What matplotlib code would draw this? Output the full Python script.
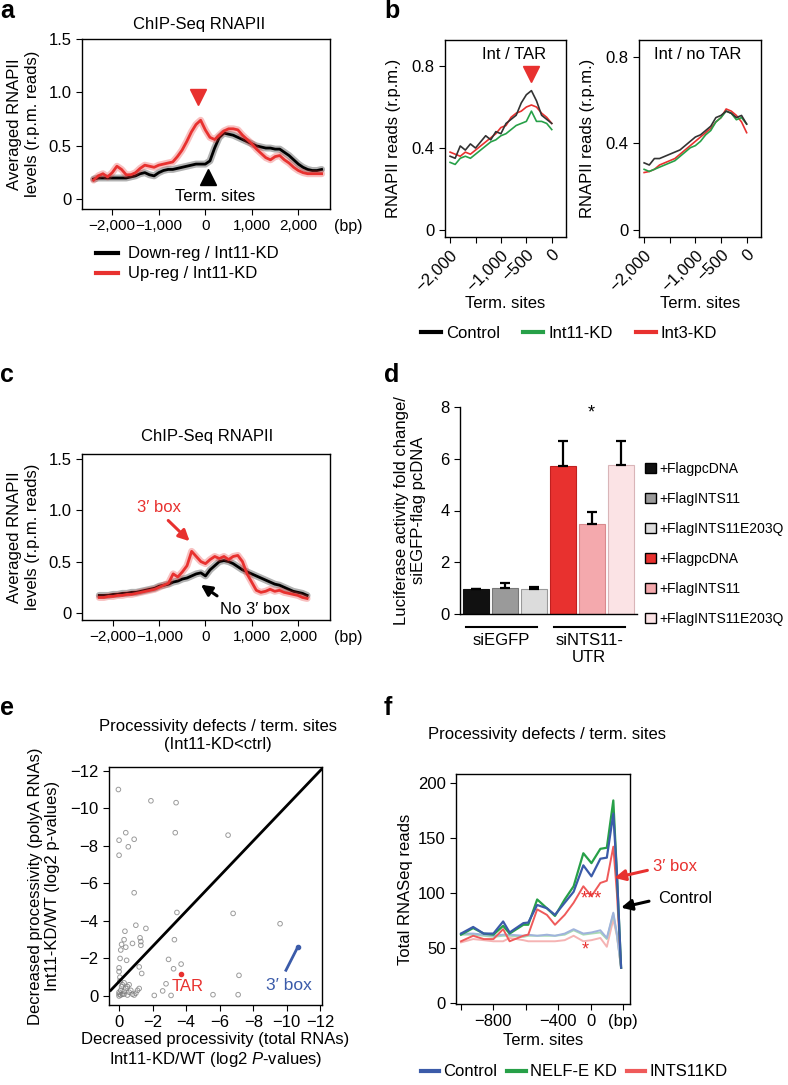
import numpy as np
import matplotlib.pyplot as plt
from matplotlib.lines import Line2D
from matplotlib.patches import Patch

plt.rcParams['font.family'] = ['Liberation Sans', 'DejaVu Sans']
plt.rcParams['font.size'] = 12
plt.rcParams['xtick.labelsize'] = 12
plt.rcParams['ytick.labelsize'] = 12
plt.rcParams['mathtext.fontset'] = 'custom'
plt.rcParams['mathtext.rm'] = 'Liberation Sans'
plt.rcParams['mathtext.it'] = 'Liberation Sans:italic'
plt.rcParams['axes.linewidth'] = 1.0
plt.rcParams['xtick.major.size'] = 4
plt.rcParams['ytick.major.size'] = 4

RED = '#e8312f'
BLUE = '#3b5ba9'
GREEN = '#27a048'

# ---- panel a: ChIP-Seq RNAPII, up/down-regulated ----
bp_a = np.arange(-2400, 2501, 100)
down_a = [0.19, 0.20, 0.20, 0.20, 0.20, 0.20, 0.20, 0.20, 0.21, 0.22,
          0.24, 0.25, 0.23, 0.22, 0.25, 0.27, 0.28, 0.28, 0.29, 0.30,
          0.31, 0.32, 0.33, 0.33, 0.33, 0.36, 0.48, 0.58, 0.62, 0.61,
          0.60, 0.58, 0.56, 0.54, 0.52, 0.50, 0.49, 0.48, 0.48, 0.47,
          0.47, 0.44, 0.41, 0.37, 0.33, 0.30, 0.28, 0.27, 0.27, 0.28]
up_a = [0.18, 0.22, 0.24, 0.21, 0.25, 0.31, 0.28, 0.23, 0.23, 0.25,
        0.29, 0.32, 0.31, 0.30, 0.32, 0.33, 0.34, 0.35, 0.40, 0.46,
        0.54, 0.63, 0.70, 0.74, 0.65, 0.58, 0.56, 0.60, 0.64, 0.66,
        0.66, 0.65, 0.60, 0.56, 0.52, 0.47, 0.43, 0.39, 0.37, 0.40,
        0.41, 0.37, 0.34, 0.30, 0.27, 0.25, 0.24, 0.24, 0.24, 0.24]

# ---- panel b: RNAPII reads upstream of term. sites ----
bp_b = np.arange(-2000, 1, 100)
tar_ctrl = [0.36, 0.35, 0.41, 0.39, 0.42, 0.40, 0.43, 0.46, 0.44, 0.48, 0.47,
            0.52, 0.54, 0.56, 0.62, 0.66, 0.68, 0.63, 0.56, 0.54, 0.52]
tar_int3 = [0.38, 0.37, 0.36, 0.38, 0.37, 0.39, 0.41, 0.43, 0.45, 0.47, 0.50,
            0.51, 0.55, 0.57, 0.58, 0.60, 0.61, 0.60, 0.57, 0.55, 0.52]
tar_int11 = [0.33, 0.32, 0.35, 0.36, 0.35, 0.37, 0.39, 0.41, 0.43, 0.44, 0.46,
             0.47, 0.49, 0.51, 0.52, 0.53, 0.58, 0.53, 0.53, 0.52, 0.49]
notar_ctrl = [0.31, 0.30, 0.33, 0.33, 0.34, 0.35, 0.36, 0.37, 0.39, 0.41, 0.43,
              0.44, 0.46, 0.48, 0.52, 0.53, 0.55, 0.54, 0.52, 0.53, 0.49]
notar_int3 = [0.265, 0.27, 0.28, 0.30, 0.31, 0.32, 0.33, 0.35, 0.37, 0.39, 0.41,
              0.43, 0.45, 0.47, 0.50, 0.52, 0.56, 0.55, 0.53, 0.50, 0.45]
notar_int11 = [0.28, 0.27, 0.28, 0.29, 0.30, 0.31, 0.32, 0.34, 0.36, 0.38, 0.39,
               0.41, 0.44, 0.46, 0.50, 0.52, 0.55, 0.54, 0.51, 0.52, 0.49]

# ---- panel c: 3' box vs no 3' box ----
bp_c = np.arange(-2300, 2201, 100)
box_c = [0.15, 0.15, 0.16, 0.16, 0.17, 0.17, 0.18, 0.18, 0.19, 0.20,
         0.21, 0.22, 0.23, 0.25, 0.27, 0.29, 0.38, 0.35, 0.40, 0.46,
         0.60, 0.55, 0.50, 0.48, 0.52, 0.55, 0.53, 0.55, 0.52, 0.55,
         0.56, 0.50, 0.38, 0.30, 0.22, 0.20, 0.21, 0.23, 0.21, 0.22,
         0.20, 0.19, 0.18, 0.17, 0.15, 0.14]
nobox_c = [0.17, 0.17, 0.17, 0.18, 0.18, 0.19, 0.19, 0.20, 0.20, 0.21,
           0.22, 0.23, 0.24, 0.26, 0.27, 0.28, 0.30, 0.31, 0.33, 0.34,
           0.36, 0.38, 0.39, 0.36, 0.42, 0.46, 0.50, 0.51, 0.50, 0.48,
           0.45, 0.42, 0.40, 0.38, 0.36, 0.34, 0.32, 0.30, 0.28, 0.27,
           0.25, 0.23, 0.21, 0.20, 0.19, 0.17]

# ---- panel d: luciferase assay ----
d_labels = ['+FlagpcDNA', '+FlagINTS11', '+FlagINTS11E203Q',
            '+FlagpcDNA', '+FlagINTS11', '+FlagINTS11E203Q']
d_values = [0.97, 1.02, 0.96, 5.72, 3.47, 5.74]
d_err = [0.0, 0.19, 0.08, 0.98, 0.48, 0.96]
d_colors = ['#111111', '#9a9a9a', '#dcdcdc', '#e8312f', '#f4a9ad', '#fbe3e5']
d_groups = ['siEGFP', 'siNTS11-\nUTR']

# ---- panel e: processivity scatter (log2 p-values) ----
e_total = [0.04, -1.9, -3.4, -0.4, -3.35, 0.0, -0.9, -0.55, 0.0, -6.5,
           -0.9, -3.45, -6.8, -9.6, -1.0, -1.6, -0.35, -0.3, -0.8, -0.15,
           -0.4, -1.25, -1.3, -1.3, -0.1, -0.06, -0.45, -3.3, -2.95, -3.7,
           -3.25, -1.2, -1.35, 0.0, 0.0, -0.05, -2.8, -2.6, -2.1, -3.1,
           -5.6, -7.1, -7.15, 0.0, -0.1, -0.2, 0.0, -0.3, -0.5, -0.6,
           -0.8, -0.9, -1.0, -0.4, -0.2, -0.5, -0.7, -1.1, -1.2, 0.0,
           -0.1, -0.3, -0.15, -0.6, -0.3, -0.05]
e_polya = [-11.0, -10.4, -10.3, -8.7, -8.7, -8.3, -8.35, -7.95, -7.5, -8.57,
           -5.5, -4.45, -4.4, -3.85, -3.77, -3.6, -3.45, -3.0, -2.8, -2.75,
           -2.6, -3.1, -2.9, -2.7, -2.45, -2.0, -1.9, -3.0, -1.95, -1.7,
           -1.45, -1.55, -1.2, -1.5, -1.3, -1.0, -0.65, -0.27, -0.03, -0.03,
           -0.07, -0.07, -1.1, 0.0, -0.05, -0.1, -0.2, -0.1, -0.05, -0.2,
           -0.1, -0.05, -0.15, -0.4, -0.6, -0.5, -0.3, -0.3, -0.4, -0.1,
           -0.3, -0.25, -0.5, -0.6, -0.7, -0.8]
tar_pt = (-3.7, -1.16)
box_seg_x = [-9.95, -10.65]
box_seg_y = [-1.37, -2.6]

# ---- panel f: total RNASeq reads ----
bp_f = [-1000, -925, -860, -800, -740, -700, -615, -585, -530, -470,
        -420, -360, -305, -245, -195, -140, -100, -60, -38, -12]
f_ctrl = [63, 69, 63, 63, 74, 64, 72.5, 73, 89, 86,
          80, 91, 101, 125, 115, 131, 132, 172, 118, 32]
f_nelf = [62, 68, 63, 62, 70, 63, 71, 71, 94, 86,
          79, 94, 106, 136, 127, 140, 141, 184, 118, 32]
f_ints = [56, 61, 58, 58, 67, 56, 61, 62, 85, 80,
          71, 80, 91, 106, 97, 109, 111, 142, 100, 32]
f_ctrl_nobox = [63, 63, 62, 61, 62, 62, 61, 62, 61, 62,
                61, 63, 67, 63, 64, 66, 59, 82, 63, 32]
f_nelf_nobox = [62, 62, 61, 60, 61, 61, 60, 61, 61, 61,
                61, 62, 66, 62, 63, 64, 58, 81, 62, 32]
f_ints_nobox = [55, 58, 57, 56, 56, 59, 57, 56, 56, 56,
                56, 57, 61, 56, 57, 59, 51, 76, 61, 32]
f_ticks = [-1000, -800, -600, -400, -200, 0]
f_ticklabels = ['', '\u2212800', '', '\u2212400', '0', '(bp)']

fig = plt.figure(figsize=(7.88, 10.85), dpi=100)


def px_axes(l, t, r, b):
    return fig.add_axes([l / 788, 1 - b / 1085, (r - l) / 788, (b - t) / 1085])


def fig_text(x, y, s, **kw):
    # place text at pixel position (from top-left)
    return fig.text(x / 788, 1 - y / 1085, s, **kw)


def glow(ax, x, y, color):
    ax.plot(x, y, color=color, lw=5, alpha=0.3, solid_capstyle='round')
    ax.plot(x, y, color=color, lw=2)


def bp_axis(ax):
    ax.set_xticks([-2000, -1000, 0, 1000, 2000])
    ax.set_xticklabels(['\u22122,000', '\u22121,000', '0', '1,000', '2,000'],
                       fontsize=11)
    ax.set_yticks([0, 0.5, 1.0, 1.5])
    ax.set_yticklabels(['0', '0.5', '1.0', '1.5'])
    ax.annotate('(bp)', xy=(1, 0), xycoords='axes fraction', xytext=(3, -7.5),
                textcoords='offset points', ha='left', va='top', fontsize=11.5)


for lbl, x, y in [('a', 0, 11), ('b', 384, 11), ('c', 0, 375),
                  ('d', 384, 375), ('e', 0, 708), ('f', 384, 708)]:
    fig_text(x, y, lbl, fontsize=18, fontweight='bold', va='center')

# a
ax = px_axes(82, 39, 330, 209)
glow(ax, bp_a, down_a, 'k')
glow(ax, bp_a, up_a, RED)
ax.set_xlim(-2650, 2680)
ax.set_ylim(-0.09, 1.5)
bp_axis(ax)
fig_text(199, 25, 'ChIP-Seq RNAPII', ha='center', va='center')
ax.set_ylabel('Averaged RNAPII\nlevels (r.p.m. reads)')
ax.yaxis.set_label_coords(-0.17, 0.5)
ax.plot(-150, 0.96, marker='v', color=RED, ms=11)
ax.plot(60, 0.21, marker='^', color='k', ms=11)
ax.text(214, 0.03, 'Term. sites', ha='center', va='center')
ax.legend([Line2D([], [], color='k', lw=3), Line2D([], [], color=RED, lw=3)],
          ['Down-reg / Int11-KD', 'Up-reg / Int11-KD'], loc='upper left',
          bbox_to_anchor=(88 / 788, 1 - 238 / 1085), bbox_transform=fig.transFigure,
          frameon=False, handlelength=1.3, labelspacing=0.3, borderpad=0,
          handletextpad=0.6)

# b
panels_b = [((445, 40, 566, 237), (-0.034, 0.927), tar_ctrl, tar_int11, tar_int3,
             'Int / TAR', 0.574),
            ((639, 40, 761, 237), (-0.034, 0.88), notar_ctrl, notar_int11, notar_int3,
             'Int / no TAR', 0.48)]
for box, ylim, ctrl, int11, int3, name, tx in panels_b:
    ax = px_axes(*box)
    ax.plot(bp_b, int3, color=RED, lw=1.2)
    ax.plot(bp_b, int11, color=GREEN, lw=1.2)
    ax.plot(bp_b, ctrl, color='#333333', lw=1.2)
    ax.set_xlim(-2100, 280)
    ax.set_ylim(*ylim)
    ax.set_yticks([0, 0.4, 0.8])
    ax.set_yticklabels(['0', '0.4', '0.8'])
    ax.set_xticks([-2000, -1500, -1000, -500, 0])
    ax.set_xticklabels(['\u22122,000', '', '\u22121,000', '\u2212500', '0'],
                       rotation=45, ha='right', rotation_mode='anchor')
    ax.set_ylabel('RNAPII reads (r.p.m.)')
    ax.yaxis.set_label_coords(-0.36, 0.5)
    ax.set_xlabel('Term. sites')
    ax.xaxis.set_label_coords(0.5, -0.3)
    ax.text(tx, 0.924, name, transform=ax.transAxes, ha='center', va='center')
    if name == 'Int / TAR':
        ax.plot(-400, 0.76, marker='v', color=RED, ms=12)
fig.legend([Line2D([], [], color='k', lw=3), Line2D([], [], color=GREEN, lw=3),
            Line2D([], [], color=RED, lw=3)], ['Control', 'Int11-KD', 'Int3-KD'],
           loc='center', bbox_to_anchor=(569 / 788, 1 - 333 / 1085), ncol=3,
           frameon=False, handlelength=1.2, handletextpad=0.3, columnspacing=1.4)

# c
ax = px_axes(82, 454, 330, 620)
glow(ax, bp_c, nobox_c, 'k')
glow(ax, bp_c, box_c, RED)
ax.set_xlim(-2674, 2696)
ax.set_ylim(-0.07, 1.55)
bp_axis(ax)
fig_text(207, 437, 'ChIP-Seq RNAPII', ha='center', va='center')
ax.set_ylabel('Averaged RNAPII\nlevels (r.p.m. reads)')
ax.yaxis.set_label_coords(-0.17, 0.5)
ax.text(-1000, 1.03, '3\u2032 box', color=RED, ha='center', va='center')
ax.annotate('', xy=(-300, 0.68), xytext=(-850, 0.92),
            arrowprops=dict(arrowstyle='-|>', color=RED, lw=2.2, mutation_scale=16))
ax.annotate('', xy=(-150, 0.29), xytext=(300, 0.15),
            arrowprops=dict(arrowstyle='-|>', color='k', lw=2.2, mutation_scale=16))
ax.text(1065, 0.03, 'No 3\u2032 box', ha='center', va='center')

# d
ax = px_axes(460, 407, 637, 614)
pos = np.arange(len(d_values))
edges = ['#111111', '#777777', '#999999', '#c02020', '#d88a8e', '#d9b5b8']
ax.bar(pos, d_values, width=0.9, color=d_colors, edgecolor=edges, lw=0.8)
ax.errorbar(pos, d_values, yerr=[np.zeros(len(d_err)), d_err], fmt='none',
            ecolor='k', elinewidth=1.6, capsize=3.5, capthick=1.6)
ax.set_xlim(-0.55, 5.57)
ax.set_ylim(0, 8)
ax.set_yticks([0, 2, 4, 6, 8])
ax.tick_params(bottom=False, labelbottom=False)
for s in ['top', 'right']:
    ax.spines[s].set_visible(False)
ax.set_ylabel('Luciferase activity fold change/\nsiEGFP-flag pcDNA')
ax.yaxis.set_label_coords(-0.19, 0.5)
ax.text(4, 7.75, '*', ha='center', va='center', fontsize=13)
for (x0, x1), g in zip([(-0.34, 2.1), (2.69, 5.14)], d_groups):
    ax.plot([x0, x1], [-0.5, -0.5], color='k', lw=1.5, clip_on=False)
    ax.text((x0 + x1) / 2, -0.72, g, ha='center', va='top', linespacing=1.2)
ax.legend([Patch(facecolor=c, edgecolor='k', lw=1) for c in d_colors], d_labels,
          loc='upper left', bbox_to_anchor=(638 / 788, 1 - 455 / 1085),
          bbox_transform=fig.transFigure, frameon=False, fontsize=10,
          handlelength=0.8, handleheight=0.8, handletextpad=0.25, labelspacing=1.15,
          borderpad=0)

# e
ax = px_axes(109, 767, 322, 1005)
ax.scatter(e_total, e_polya, s=11, facecolors='none', edgecolors='#7a7a7a',
           linewidths=0.7, alpha=0.75)
ax.plot([0.5, -12.2], [-0.3, -12.2], color='k', lw=2)
ax.plot(*tar_pt, 'o', color=RED, ms=3)
ax.text(-4.1, -0.5, 'TAR', color=RED, ha='center', va='center', fontsize=12)
ax.plot(box_seg_x, box_seg_y, color=BLUE, lw=2)
ax.plot(box_seg_x[1], box_seg_y[1], 'o', color=BLUE, ms=3)
ax.text(-10.1, -0.57, '3\u2032 box', color=BLUE, ha='center', va='center', fontsize=12.5)
ax.set_xlim(0.6, -12.1)
ax.set_ylim(0.48, -12.2)
ticks_e = [0, -2, -4, -6, -8, -10, -12]
ax.set_xticks(ticks_e)
ax.set_yticks(ticks_e)
fig_text(218, 735, 'Processivity defects / term. sites\n(Int11-KD<ctrl)',
         ha='center', va='center', linespacing=1.25)
ax.set_ylabel('Decreased processivity (polyA RNAs)\nInt11-KD/WT (log2 p-values)')
ax.yaxis.set_label_coords(-0.23, 0.5)
ax.set_xlabel('Decreased processivity (total RNAs)\nInt11-KD/WT (log2 $P$-values)')
ax.xaxis.set_label_coords(0.5, -0.115)

# f
ax = px_axes(456, 774, 630, 1004)
ax.plot(bp_f, f_ints_nobox, color='#f5b3b3', lw=1.4)
ax.plot(bp_f, f_nelf_nobox, color='#a9dbb4', lw=1.4)
ax.plot(bp_f, f_ctrl_nobox, color='#9fb3dc', lw=1.4)
ax.plot(bp_f, f_ints, color='#ef5a5a', lw=1.4)
ax.plot(bp_f, f_nelf, color=GREEN, lw=1.6)
ax.plot(bp_f, f_ctrl, color=BLUE, lw=1.6)
ax.set_xlim(-1031, 43)
ax.set_ylim(-1, 208)
ax.set_xticks(f_ticks)
ax.set_xticklabels(f_ticklabels)
ax.set_yticks([0, 50, 100, 150, 200])
fig_text(547, 735, 'Processivity defects / term. sites', ha='center', va='center')
ax.set_ylabel('Total RNASeq reads')
ax.yaxis.set_label_coords(-0.245, 0.5)
ax.set_xlabel('Term. sites')
ax.xaxis.set_label_coords(0.5, -0.125)
ax.text(-195, 94, '***', color=RED, ha='center', va='center', fontsize=13)
ax.text(-235, 48, '*', color=RED, ha='center', va='center', fontsize=13)
ax.annotate('', xy=(-70, 113), xytext=(167, 121), annotation_clip=False,
            arrowprops=dict(arrowstyle='-|>', color=RED, lw=2.2, mutation_scale=16))
ax.text(185, 124, '3\u2032 box', color=RED, ha='left', va='center', clip_on=False)
ax.annotate('', xy=(-29, 86), xytext=(177, 93), annotation_clip=False,
            arrowprops=dict(arrowstyle='-|>', color='k', lw=2.2, mutation_scale=16))
ax.text(216, 95, 'Control', ha='left', va='center', clip_on=False)
fig.legend([Line2D([], [], color=BLUE, lw=3), Line2D([], [], color=GREEN, lw=3),
            Line2D([], [], color='#ef5a5a', lw=3)], ['Control', 'NELF-E KD', 'INTS11KD'],
           loc='center', bbox_to_anchor=(574 / 788, 1 - 1072 / 1085), ncol=3,
           frameon=False, handlelength=1.1, handletextpad=0.25, columnspacing=0.6,
           fontsize=12)

fig.savefig('out.png', dpi=100)
